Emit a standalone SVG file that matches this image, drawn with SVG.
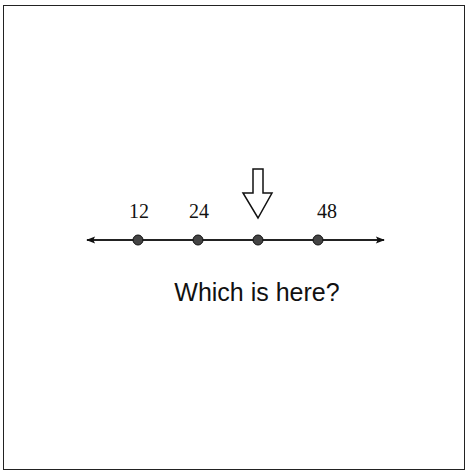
<svg xmlns="http://www.w3.org/2000/svg" width="469" height="472" viewBox="0 0 469 472">
<style>
.num{font-family:"Liberation Serif",serif;font-size:20px;fill:#111;text-anchor:middle}
.q{font-family:"Liberation Sans",Arial,sans-serif;font-size:25px;fill:#111;text-anchor:middle}
.dot{fill:#444;stroke:#111;stroke-width:1}
</style>
<defs>
<marker id="ah" viewBox="0 0 10 10" refX="9" refY="5" markerWidth="10" markerHeight="9" orient="auto-start-reverse" markerUnits="userSpaceOnUse">
<path d="M0,1 L10,5 L0,9 L2,5 Z" fill="#111"/>
</marker>
</defs>
<rect x="3.5" y="5.5" width="461" height="464" fill="#fff" stroke="#222" stroke-width="1"/>
<g id="connectors">
<line x1="87" y1="240" x2="384" y2="240" stroke="#222" stroke-width="2" marker-start="url(#ah)" marker-end="url(#ah)"/>
</g>
<g id="pt12"><circle class="dot" cx="138" cy="240" r="5"/><text class="num" x="139" y="218">12</text></g>
<g id="pt24"><circle class="dot" cx="198" cy="240" r="5"/><text class="num" x="199" y="218">24</text></g>
<g id="pt36"><circle class="dot" cx="258" cy="240" r="5"/></g>
<g id="pt48"><circle class="dot" cx="318" cy="240" r="5"/><text class="num" x="327" y="218">48</text></g>
<g id="pointer"><path d="M253,169 L263,169 L263,193 L272,193 L258,218 L243,193 L253,193 Z" fill="#fff" stroke="#111" stroke-width="1.5"/></g>
<g id="question"><text class="q" x="257" y="301">Which is here?</text></g>
</svg>
